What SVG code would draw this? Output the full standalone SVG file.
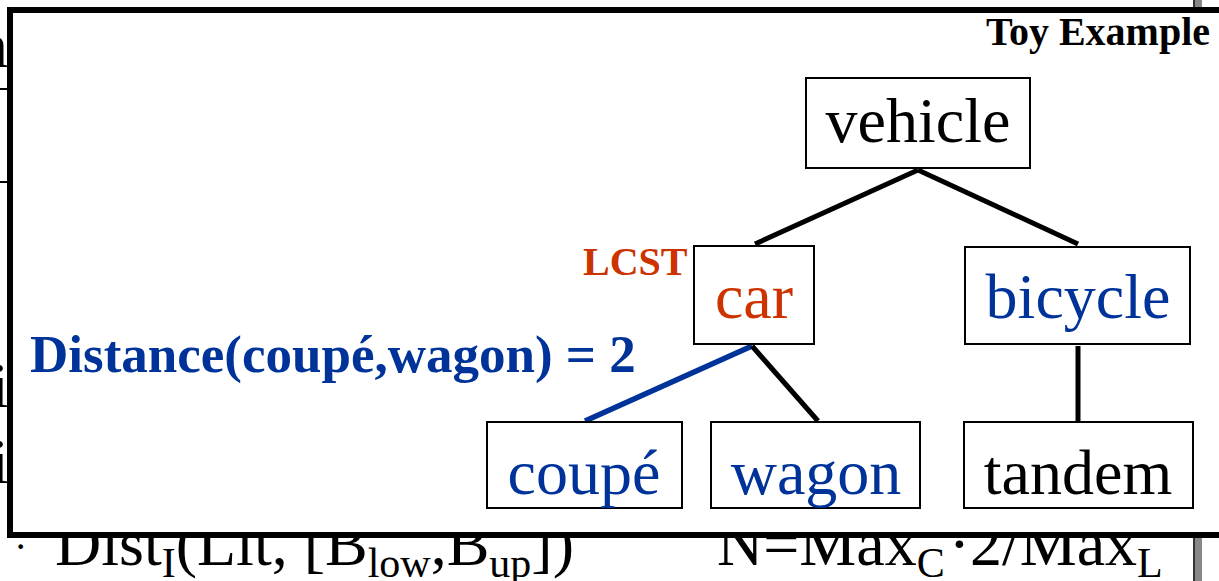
<svg xmlns="http://www.w3.org/2000/svg" width="1219" height="581" viewBox="0 0 1219 581">
  <style>
    .serif { font-family: "Liberation Serif", "Times New Roman", serif; fill: #000000; }
    .node rect { fill: #ffffff; stroke: #000000; stroke-width: 2; }
    .node text { font-family: "Liberation Serif", "Times New Roman", serif; font-size: 64px; text-anchor: middle; }
    .blue { fill: #003399; }
    .red { fill: #cc3300; }
    .edge { stroke: #000000; stroke-width: 5; stroke-linecap: butt; }
    .edge.hl { stroke: #003399; stroke-width: 5.5; }
    .sub { font-size: 42px; fill: #000000; }
  </style>

  <rect width="1219" height="581" fill="#ffffff"/>

  <!-- slide content behind the inset panel -->
  <g id="background">
    <text class="serif" x="-24" y="67" font-size="64">n</text>
    <line x1="0" y1="89" x2="10" y2="89" stroke="#000" stroke-width="2"/>
    <line x1="0" y1="182" x2="10" y2="182" stroke="#000" stroke-width="2"/>
    <text class="serif" x="-9" y="407" font-size="64">i</text>
    <text class="serif" x="-9" y="483" font-size="64">i</text>
    <rect x="1194" y="0" width="8" height="581" fill="#888888"/>
    <rect x="1193" y="0" width="2" height="581" fill="#333333"/>
    <text class="serif" x="14" y="560" font-size="40">·</text>
    <text class="serif" x="55" y="565" font-size="64">Dist<tspan class="sub" dy="12">I</tspan><tspan dy="-12">(Lit, [B</tspan><tspan class="sub" dy="12">low</tspan><tspan dy="-12">,B</tspan><tspan class="sub" dy="12">up</tspan><tspan dy="-12">])</tspan></text>
    <text class="serif" x="717" y="565" font-size="64">N=Max<tspan class="sub" dy="12">C</tspan><tspan dy="-12" dx="4">·2/Max</tspan><tspan class="sub" dy="12">L</tspan></text>
  </g>

  <!-- inset panel -->
  <rect x="10" y="10" width="1230" height="525" fill="#ffffff" stroke="#000000" stroke-width="6"/>

  <text class="serif" x="1210" y="45" font-size="40" font-weight="bold" text-anchor="end">Toy Example</text>

  <g id="connectors">
    <line class="edge" x1="918" y1="170" x2="755" y2="244"/>
    <line class="edge" x1="918" y1="170" x2="1078" y2="244"/>
    <line class="edge hl" x1="752" y1="346" x2="585" y2="421"/>
    <line class="edge" x1="752" y1="346" x2="818" y2="421"/>
    <line class="edge" x1="1078" y1="346" x2="1078" y2="421"/>
  </g>

  <g id="vehicle" class="node">
    <rect x="806" y="78" width="224" height="90"/>
    <text x="918" y="142">vehicle</text>
  </g>
  <g id="car" class="node">
    <rect x="694" y="246" width="120" height="98"/>
    <text x="754" y="318" class="red">car</text>
  </g>
  <g id="bicycle" class="node">
    <rect x="965" y="247" width="225" height="97"/>
    <text x="1078" y="318" class="blue">bicycle</text>
  </g>
  <g id="coupe" class="node">
    <rect x="487" y="422" width="195" height="86"/>
    <text x="584" y="494" class="blue">coupé</text>
  </g>
  <g id="wagon" class="node">
    <rect x="711" y="422" width="209" height="86"/>
    <text x="816" y="494" class="blue">wagon</text>
  </g>
  <g id="tandem" class="node">
    <rect x="964" y="422" width="229" height="86"/>
    <text x="1078" y="494">tandem</text>
  </g>

  <text class="serif red" x="583" y="275" font-size="40" font-weight="bold">LCST</text>
  <text class="serif blue" x="30" y="372" font-size="53" font-weight="bold">Distance(coupé,wagon) = 2</text>
</svg>
